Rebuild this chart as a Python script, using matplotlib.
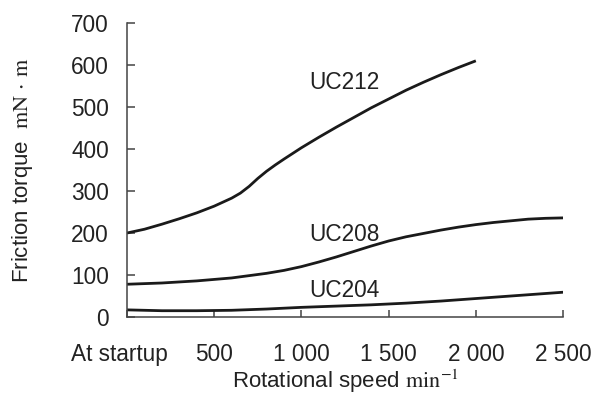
import matplotlib
matplotlib.use("Agg")
import matplotlib.pyplot as plt
import matplotlib.transforms as mtransforms

plt.rcParams['font.family'] = ['Liberation Sans', 'DejaVu Sans']
plt.rcParams['mathtext.fontset'] = 'stix'

# values
x_212 = [0, 100, 200, 300, 400, 500, 600, 650, 700, 750, 800, 850, 900, 1000,
         1100, 1200, 1300, 1400, 1500, 1600, 1700, 1800, 1900, 2000]
y_212 = [200, 209, 221, 234, 248, 264, 283, 295, 311, 330, 347, 362, 376, 403,
         428, 452, 475, 498, 519, 540, 559, 577, 594, 610]

x_208 = [0, 200, 400, 600, 800, 900, 1000, 1100, 1200, 1300, 1400, 1500, 1600,
         1700, 1800, 1900, 2000, 2100, 2200, 2300, 2400, 2500]
y_208 = [78, 81, 86, 93, 104, 111, 120, 131, 143, 156, 169, 181, 191,
         199, 207, 214, 220, 225, 229, 233, 235, 236]

x_204 = [0, 200, 400, 600, 800, 1000, 1200, 1400, 1600, 1800, 2000, 2200, 2400, 2500]
y_204 = [17, 15, 15, 16, 19, 23, 26, 29, 33, 38, 44, 50, 56, 59]

xticks = [0, 500, 1000, 1500, 2000, 2500]
xlabels = ['At startup', '500', '1 000', '1 500', '2 000', '2 500']
yticks = [0, 100, 200, 300, 400, 500, 600, 700]

fig = plt.figure(figsize=(6.0, 3.94), dpi=100)
ax = fig.add_axes([0.2117, 0.1954, 0.7267, 0.7462])

for xs, ys, name, lx, ly in [(x_212, y_212, 'UC212', 1244, 558),
                             (x_208, y_208, 'UC208', 1244, 196),
                             (x_204, y_204, 'UC204', 1244, 62)]:
    ax.plot(xs, ys, color='#1a1a1a', lw=2.0, solid_capstyle='butt',
            solid_joinstyle='round')
    ax.text(lx, ly, name, ha='center', va='center', fontsize=16.3, color='#222222')

ax.set_xlim(0, 2500)
ax.set_ylim(0, 700)
ax.set_xticks(xticks)
ax.set_xticklabels(xlabels)
ax.set_yticks(yticks)

for s in ['top', 'right']:
    ax.spines[s].set_visible(False)
for s in ['left', 'bottom']:
    ax.spines[s].set_color('#444444')
    ax.spines[s].set_linewidth(1.1)

ax.tick_params(axis='x', direction='in', length=5, width=1.1, color='#444444',
               pad=19, labelsize=16.3, labelcolor='#222222')
ax.tick_params(axis='y', direction='in', length=6, width=1.1, color='#444444',
               pad=13, labelsize=16.3, labelcolor='#222222')

# "At startup" sits a little left of its tick
first = ax.get_xticklabels()[0]
first.set_transform(first.get_transform() +
                    mtransforms.ScaledTranslation(-8 / 100, 0, fig.dpi_scale_trans))

ax.set_xlabel(r'Rotational speed $\mathrm{min^{-1}}$', fontsize=16, color='#222222', labelpad=1)
ax.set_ylabel(r'Friction torque  $\mathrm{mN\,\cdot\,m}$', fontsize=16, color='#222222', labelpad=26)

fig.savefig('out.png', dpi=100)
